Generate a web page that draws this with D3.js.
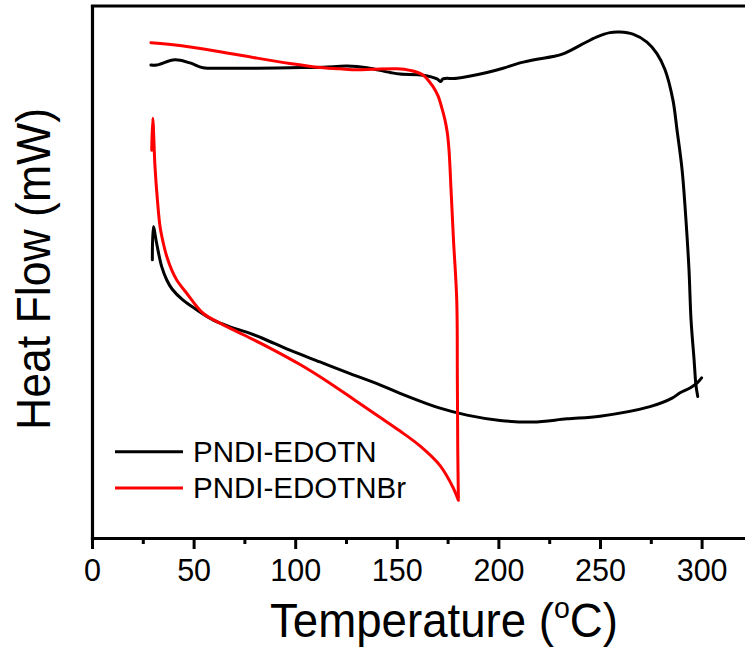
<!DOCTYPE html>
<html>
<head>
<meta charset="utf-8">
<script src="https://cdn.jsdelivr.net/npm/d3@7/dist/d3.min.js"></script>
<style>
  html, body { margin: 0; padding: 0; background: #fff; }
  svg { display: block; font-family: Arial, "Liberation Sans", sans-serif; }
</style>
</head>
<body>
<svg id="chart" width="745" height="648"></svg>
<script>
// ---------- data ----------
const seriesNames = ["PNDI-EDOTN", "PNDI-EDOTNBr"];
const seriesColors = ["#000000", "#ff0000"];
const xTickValues = [0, 50, 100, 150, 200, 250, 300];
const xMinorTicks = [25, 75, 125, 175, 225, 275, 325];

// PNDI-EDOTN heating run (temperature °C, heat flow arb. units)
const edotnHeatT  = [29.0, 31.8, 40.8, 48.2, 54.6, 64.5, 81.2, 97.4, 113.7, 125.5, 135.3, 146.7, 151.6, 162.9, 169.8, 171.6, 172.7, 179.6, 194.4, 202.3, 210.6, 219.0, 226.9, 231.8, 240.2, 248.5, 254.9, 259.8, 266.2, 273.1, 278.1, 282.0, 285.9, 287.9, 290.4, 292.3, 293.8, 294.8, 296.3, 297.2, 298.1];
const edotnHeatHF = [8.89, 8.89, 8.99, 8.93, 8.84, 8.83, 8.83, 8.84, 8.85, 8.87, 8.84, 8.75, 8.72, 8.70, 8.63, 8.58, 8.63, 8.64, 8.75, 8.83, 8.93, 9.00, 9.05, 9.10, 9.26, 9.42, 9.50, 9.51, 9.47, 9.32, 9.10, 8.80, 8.23, 7.67, 6.92, 5.98, 5.04, 4.10, 3.35, 2.88, 2.66];

// PNDI-EDOTN cooling run
const edotnCoolT  = [29.7, 30.2, 31.8, 34.3, 36.8, 39.4, 44.8, 51.5, 59.5, 67.9, 76.1, 84.2, 97.4, 112.2, 127.0, 141.7, 151.6, 171.3, 184.5, 200.8, 217.0, 233.8, 250.0, 274.6, 285.5, 289.4, 294.3, 297.7, 300.0];
const edotnCoolHF = [5.23, 5.85, 5.54, 5.10, 4.85, 4.68, 4.47, 4.29, 4.10, 3.97, 3.87, 3.75, 3.53, 3.31, 3.09, 2.88, 2.72, 2.44, 2.31, 2.21, 2.18, 2.24, 2.29, 2.47, 2.63, 2.73, 2.82, 2.91, 3.01];

// PNDI-EDOTNBr heating run
const edotnbrHeatT  = [29.0, 39.9, 61.5, 81.2, 97.4, 110.7, 122.0, 130.4, 138.3, 150.1, 156.5, 163.0, 167.9, 170.3, 172.2, 173.7, 174.8, 175.7, 176.7, 177.9, 179.5, 179.8, 180.0, 180.3];
const edotnbrHeatHF = [9.31, 9.27, 9.15, 9.02, 8.92, 8.85, 8.82, 8.80, 8.81, 8.82, 8.79, 8.70, 8.48, 8.31, 8.08, 7.86, 7.63, 7.29, 6.54, 5.60, 4.47, 2.97, 1.65, 0.75];

// PNDI-EDOTNBr cooling run
const edotnbrCoolT  = [29.4, 29.9, 31.0, 32.2, 33.5, 35.1, 36.8, 39.2, 41.7, 46.6, 54.8, 63.0, 74.5, 87.6, 102.4, 117.1, 129.4, 141.7, 151.6, 161.4, 171.3, 177.8, 180.3];
const edotnbrCoolHF = [7.29, 7.89, 6.98, 6.35, 5.85, 5.54, 5.29, 5.04, 4.85, 4.60, 4.22, 4.04, 3.82, 3.57, 3.26, 2.91, 2.59, 2.27, 2.01, 1.73, 1.36, 0.94, 0.71];

// ---------- drawing ----------
const svg = d3.select("#chart");
const plotLeft = 92, plotTop = 5.5, plotBottom = 538;
const x = d3.scaleLinear().domain([0, 330]).range([plotLeft, plotLeft + 330 * 2.032]);
const y = d3.scaleLinear().domain([0, 10]).range([plotBottom, plotTop + 0.5]);

const zip = (T, H) => T.map((t, i) => ({ t, v: H[i] }));
const runs = [
  { data: zip(edotnHeatT, edotnHeatHF), s: 0 },
  { data: zip(edotnCoolT, edotnCoolHF), s: 0 },
  { data: zip(edotnbrHeatT, edotnbrHeatHF), s: 1 },
  { data: zip(edotnbrCoolT, edotnbrCoolHF), s: 1 }
];

const line = d3.line()
  .x(d => x(d.t))
  .y(d => y(d.v))
  .curve(d3.curveCatmullRom.alpha(0.5));

svg.append("g").selectAll("path")
  .data(runs)
  .join("path")
  .attr("d", d => line(d.data))
  .attr("fill", "none")
  .attr("stroke", d => seriesColors[d.s])
  .attr("stroke-width", 3)
  .attr("stroke-linejoin", "round")
  .attr("stroke-linecap", "round");

// Frame / axes
const xAxis = svg.append("g")
  .attr("transform", `translate(0,${plotBottom})`)
  .call(d3.axisBottom(x).tickValues(xTickValues).tickSize(11).tickSizeOuter(0).tickPadding(10));
xAxis.selectAll(".tick text").attr("font-size", 30.5).attr("fill", "#000").attr("font-family", "Arial, 'Liberation Sans', sans-serif");

const xMinor = svg.append("g")
  .attr("transform", `translate(0,${plotBottom})`)
  .call(d3.axisBottom(x).tickValues(xMinorTicks).tickSize(6).tickSizeOuter(0).tickFormat(""));
xMinor.select(".domain").remove();

svg.append("g")
  .attr("transform", `translate(0,${plotTop})`)
  .call(d3.axisTop(x).tickValues([]).tickSizeOuter(0));

svg.append("g")
  .attr("transform", `translate(${plotLeft},0)`)
  .call(d3.axisLeft(y).tickValues([]).tickSizeOuter(0));

svg.selectAll(".domain").attr("stroke", "#000").attr("stroke-width", 3.2).attr("stroke-linecap", "square");
svg.selectAll(".tick line").attr("stroke", "#000").attr("stroke-width", 3);

// Axis titles
const xt = svg.append("text")
  .attr("x", 270).attr("y", 637)
  .attr("font-size", 48)
  .attr("textLength", 348).attr("lengthAdjust", "spacingAndGlyphs")
  .attr("fill", "#000");
xt.append("tspan").text("Temperature (");
xt.append("tspan").attr("font-size", 30).attr("dy", -19).text("o");
xt.append("tspan").attr("dy", 19).text("C)");

svg.append("text")
  .attr("transform", "translate(50,269) rotate(-90)")
  .attr("text-anchor", "middle")
  .attr("font-size", 48)
  .attr("textLength", 322).attr("lengthAdjust", "spacingAndGlyphs")
  .attr("fill", "#000")
  .text("Heat Flow (mW)");

// Legend
const legend = svg.append("g").selectAll("g")
  .data(seriesNames)
  .join("g")
  .attr("transform", (d, i) => `translate(115,${451.7 + i * 36.3})`);
legend.append("line")
  .attr("x1", 0).attr("x2", 68).attr("y1", 0).attr("y2", 0)
  .attr("stroke", (d, i) => seriesColors[i]).attr("stroke-width", 3);
legend.append("text")
  .attr("x", 78).attr("y", 10.3)
  .attr("font-size", 29.5)
  .attr("fill", "#000")
  .text(d => d);
</script>
</body>
</html>
